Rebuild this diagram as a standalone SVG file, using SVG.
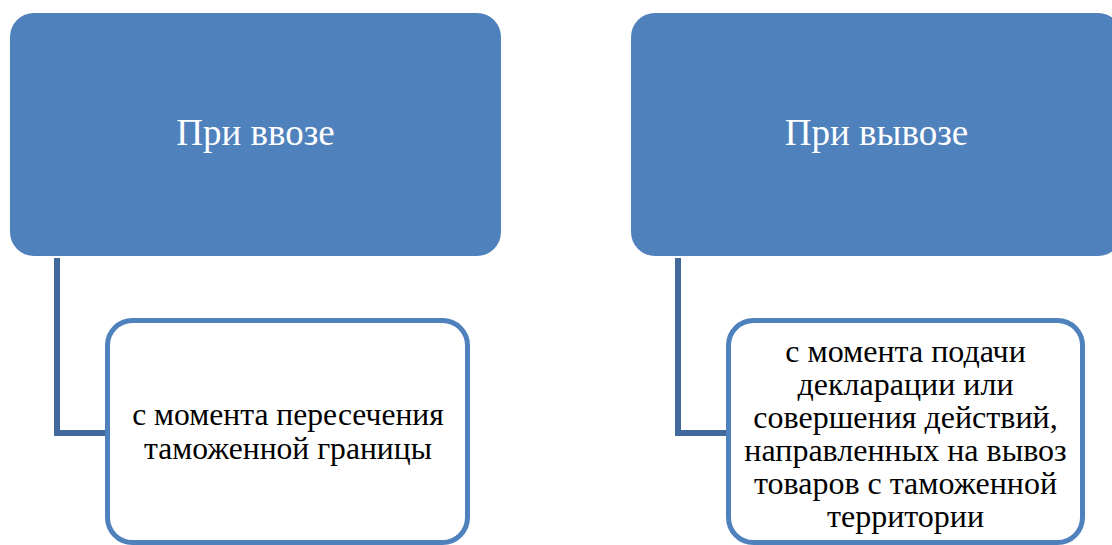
<svg xmlns="http://www.w3.org/2000/svg" width="1112" height="545" viewBox="0 0 1112 545">
<style>
.top{fill:#4F81BD;}
.sub{fill:#FFFFFF;stroke:#4F81BD;stroke-width:5;}
.conn{fill:none;stroke:#41699C;stroke-width:6;}
.t1{font-family:"Liberation Serif","Times New Roman",serif;font-size:37px;fill:#FFFFFF;text-anchor:middle;}
.t2{font-family:"Liberation Serif","Times New Roman",serif;font-size:31.6px;fill:#000000;text-anchor:middle;}
.t3{font-family:"Liberation Serif","Times New Roman",serif;font-size:32px;fill:#000000;text-anchor:middle;}
</style>
<rect width="1112" height="545" fill="#FFFFFF"/>
<g id="connectors">
<path class="conn" d="M57,258 V433 H106"/>
<path class="conn" d="M678,258 V433 H727"/>
</g>
<g id="node-import">
<rect class="top" x="10" y="13" width="491" height="243" rx="24" ry="24"/>
<text class="t1" x="255.5" y="145">При ввозе</text>
</g>
<g id="node-export">
<rect class="top" x="631" y="13" width="491" height="243" rx="24" ry="24"/>
<text class="t1" x="876.5" y="145">При вывозе</text>
</g>
<g id="node-import-detail">
<rect class="sub" x="107.5" y="320.5" width="360" height="222" rx="25" ry="25"/>
<text class="t2" x="288" y="425">с момента пересечения</text>
<text class="t2" x="288" y="459">таможенной границы</text>
</g>
<g id="node-export-detail">
<rect class="sub" x="728.5" y="320.5" width="354" height="222" rx="25" ry="25"/>
<text class="t3" x="905.5" y="362">с момента подачи</text>
<text class="t3" x="905.5" y="395">декларации или</text>
<text class="t3" x="905.5" y="428">совершения действий,</text>
<text class="t3" x="905.5" y="461">направленных на вывоз</text>
<text class="t3" x="905.5" y="494">товаров с таможенной</text>
<text class="t3" x="905.5" y="527">территории</text>
</g>
</svg>
